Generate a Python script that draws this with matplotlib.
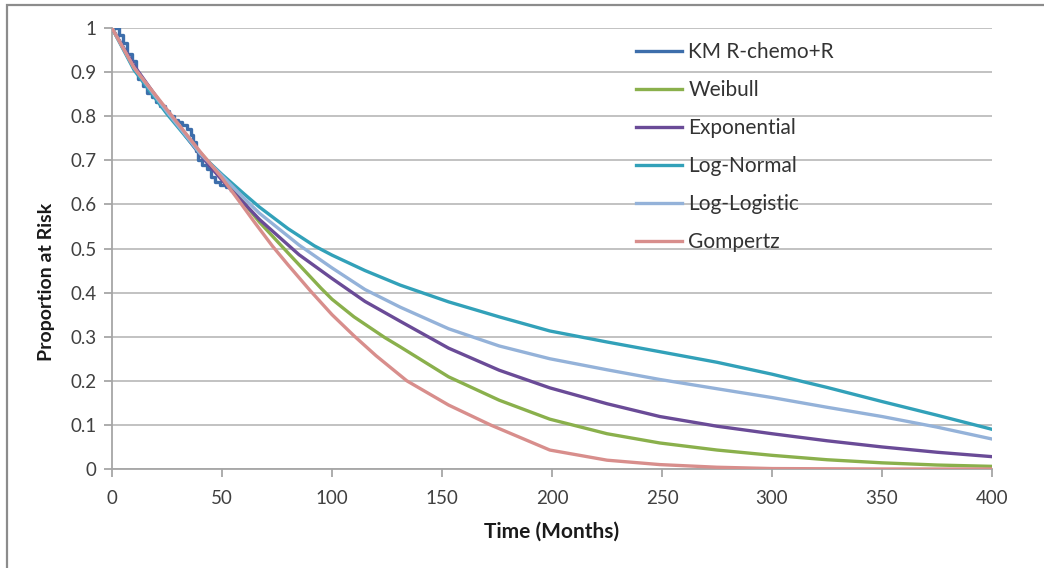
import matplotlib.pyplot as plt
from matplotlib.patches import Rectangle

plt.rcParams['font.family'] = ['Lato', 'DejaVu Sans']

# Kaplan-Meier R-chemo+R (observed)
km_t = [0, 3, 5, 7, 9, 11, 12, 14, 16, 18, 20, 22, 24, 26, 28, 30, 32, 34, 36, 37, 38, 39, 41, 43, 45, 47, 49, 52, 54]
km_s = [1.0, 0.985, 0.965, 0.94, 0.925, 0.90, 0.885, 0.868, 0.852, 0.843, 0.832, 0.823, 0.812, 0.80, 0.792, 0.787, 0.781, 0.772, 0.757, 0.742, 0.722, 0.700, 0.690, 0.680, 0.662, 0.650, 0.645, 0.640, 0.632]

# fitted parametric curves
weib_t = [0, 10, 25, 40, 50, 60, 67, 80, 95, 100, 110, 124, 131, 153, 176, 199, 225, 249, 275, 300, 325, 350, 375, 400]
weib_s = [1.0, 0.91, 0.812, 0.718, 0.664, 0.603, 0.560, 0.490, 0.410, 0.385, 0.345, 0.298, 0.277, 0.209, 0.156, 0.113, 0.080, 0.059, 0.043, 0.031, 0.021, 0.014, 0.009, 0.006]

exp_t = [0, 10, 25, 40, 50, 60, 67, 85, 100, 115, 131, 153, 176, 199, 225, 249, 275, 300, 325, 350, 375, 400]
exp_s = [1.0, 0.915, 0.810, 0.713, 0.655, 0.603, 0.566, 0.486, 0.432, 0.380, 0.335, 0.274, 0.224, 0.184, 0.148, 0.119, 0.097, 0.080, 0.064, 0.050, 0.038, 0.028]

lnorm_t = [0, 10, 25, 40, 50, 60, 67, 80, 92, 100, 115, 131, 153, 176, 199, 225, 249, 275, 300, 325, 350, 375, 400]
lnorm_s = [1.0, 0.905, 0.805, 0.715, 0.668, 0.624, 0.594, 0.545, 0.506, 0.485, 0.450, 0.417, 0.379, 0.345, 0.313, 0.288, 0.266, 0.242, 0.215, 0.185, 0.153, 0.122, 0.090]

llog_t = [0, 10, 25, 40, 50, 60, 67, 85, 100, 115, 131, 153, 176, 199, 225, 249, 275, 300, 325, 350, 375, 400]
llog_s = [1.0, 0.91, 0.81, 0.716, 0.665, 0.614, 0.580, 0.508, 0.456, 0.407, 0.367, 0.318, 0.279, 0.250, 0.225, 0.203, 0.182, 0.162, 0.140, 0.119, 0.095, 0.068]

gomp_t = [0, 10, 25, 40, 50, 58, 65, 73, 80, 90, 100, 110, 120, 134, 153, 172, 199, 225, 249, 275, 300, 350, 400]
gomp_s = [1.0, 0.91, 0.815, 0.72, 0.66, 0.606, 0.558, 0.505, 0.463, 0.405, 0.350, 0.302, 0.257, 0.200, 0.145, 0.100, 0.043, 0.020, 0.010, 0.004, 0.001, 0.0, 0.0]

x_ticks = [0, 50, 100, 150, 200, 250, 300, 350, 400]
y_ticks = [0, 0.1, 0.2, 0.3, 0.4, 0.5, 0.6, 0.7, 0.8, 0.9, 1]
y_labels = ['0', '0.1', '0.2', '0.3', '0.4', '0.5', '0.6', '0.7', '0.8', '0.9', '1']

fig = plt.figure(figsize=(10.44, 5.68), dpi=100)
ax = fig.add_axes([112/1044, 1 - 469/568, 880/1044, 441/568])

# outer chart border
fig.patches.append(Rectangle((7/1044, -0.05), 1.2, 1 - 5/568 + 0.05, transform=fig.transFigure,
                             fill=False, edgecolor='#8c8c8c', linewidth=1.6))

lw = 2.4
ax.plot(km_t, km_s, color='#3d6eab', lw=lw, drawstyle='steps-post', label='KM R-chemo+R', zorder=3)
ax.plot(weib_t, weib_s, color='#8ab04c', lw=lw, label='Weibull', zorder=3)
ax.plot(exp_t, exp_s, color='#6a4b97', lw=lw, label='Exponential', zorder=3)
ax.plot(lnorm_t, lnorm_s, color='#32a1b9', lw=lw, label='Log-Normal', zorder=3)
ax.plot(llog_t, llog_s, color='#94b2d9', lw=lw, label='Log-Logistic', zorder=3)
ax.plot(gomp_t, gomp_s, color='#d88e8c', lw=lw, label='Gompertz', zorder=4)

ax.set_xlim(0, 400)
ax.set_ylim(0, 1)
ax.set_xticks(x_ticks)
ax.set_yticks(y_ticks)
ax.set_yticklabels(y_labels)
ax.grid(axis='y', color='#bdbdbd', lw=1.3)
ax.set_axisbelow(True)
for side in ['top', 'right']:
    ax.spines[side].set_visible(False)
for side in ['left', 'bottom']:
    ax.spines[side].set_color('#a6a6a6')
    ax.spines[side].set_linewidth(1.3)
ax.tick_params(axis='both', colors='#a6a6a6', width=1.3, length=6, labelsize=13.5,
               labelcolor='#404040')
ax.tick_params(axis='x', pad=9)
ax.tick_params(axis='y', pad=5)

fig.text(47/1044, 1 - 282/568, 'Proportion at Risk', rotation=90, fontsize=14,
         fontweight='bold', ha='center', va='center', color='#1a1a1a')
fig.text(552/1044, 1 - 532/568, 'Time (Months)', fontsize=15, fontweight='bold',
         ha='center', va='center', color='#1a1a1a')

leg = ax.legend(loc='upper left', bbox_to_anchor=(628/1044, 1 - 34/568), bbox_transform=fig.transFigure,
                frameon=False, fontsize=15, handlelength=2.2, handletextpad=0.3,
                labelspacing=0.86, borderaxespad=0)
for t in leg.get_texts():
    t.set_color('#333333')

fig.savefig('out.png', dpi=100)
